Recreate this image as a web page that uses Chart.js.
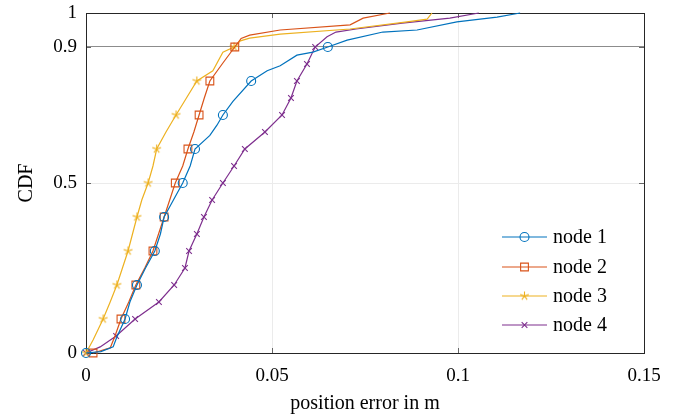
<!DOCTYPE html>
<html>
<head>
<meta charset="utf-8">
<script src="https://cdn.jsdelivr.net/npm/chart.js@4.4.1/dist/chart.umd.min.js"></script>
<style>
  html, body { margin: 0; padding: 0; background: #fff; }
  #wrap { width: 692px; height: 416px; }
</style>
</head>
<body>
<div id="wrap"><canvas id="cdf"></canvas></div>
<script>
// values: position error (m) against CDF level
const node1X   = [0, 0.004, 0.0073, 0.0083, 0.0105, 0.0118, 0.0137, 0.016, 0.0185, 0.020, 0.021, 0.0235, 0.026, 0.028, 0.0293, 0.0333, 0.0352, 0.0368, 0.0395, 0.0444, 0.0487, 0.0522, 0.0567, 0.061, 0.065, 0.0702, 0.0798, 0.089, 0.0997, 0.1105, 0.1167];
const node1Cdf = [0, 0.004, 0.018, 0.047, 0.1, 0.15, 0.2, 0.25, 0.3, 0.35, 0.4, 0.45, 0.5, 0.55, 0.6, 0.64, 0.67, 0.7, 0.74, 0.8, 0.83, 0.845, 0.876, 0.885, 0.9, 0.92, 0.944, 0.95, 0.974, 0.988, 1];

const node2X   = [0.0019, 0.0065, 0.0078, 0.0094, 0.0115, 0.0134, 0.0158, 0.018, 0.0195, 0.021, 0.0225, 0.024, 0.026, 0.0274, 0.029, 0.0304, 0.0318, 0.0333, 0.0368, 0.040, 0.0417, 0.044, 0.0522, 0.071, 0.0745, 0.0817];
const node2Cdf = [0, 0.015, 0.05, 0.1, 0.15, 0.2, 0.25, 0.3, 0.35, 0.4, 0.45, 0.5, 0.55, 0.6, 0.65, 0.7, 0.75, 0.8, 0.853, 0.9, 0.925, 0.935, 0.95, 0.965, 0.985, 1];

const node3X   = [0, 0.0019, 0.0046, 0.0065, 0.0083, 0.0098, 0.0113, 0.0125, 0.0137, 0.015, 0.0167, 0.018, 0.019, 0.0215, 0.0242, 0.027, 0.0298, 0.0341, 0.0368, 0.0398, 0.0415, 0.044, 0.0522, 0.071, 0.0863, 0.0917, 0.093];
const node3Cdf = [0, 0.038, 0.1, 0.15, 0.2, 0.25, 0.3, 0.35, 0.4, 0.45, 0.5, 0.55, 0.6, 0.65, 0.7, 0.75, 0.8, 0.83, 0.885, 0.9, 0.918, 0.926, 0.938, 0.953, 0.974, 0.982, 1];

const node4X   = [0, 0.0038, 0.0081, 0.0132, 0.0196, 0.0237, 0.0266, 0.0277, 0.0298, 0.0317, 0.0339, 0.0368, 0.0398, 0.0427, 0.0481, 0.0527, 0.0551, 0.0567, 0.0594, 0.0616, 0.0648, 0.0672, 0.0726, 0.085, 0.0978, 0.1056];
const node4Cdf = [0, 0.018, 0.05, 0.1, 0.15, 0.2, 0.25, 0.3, 0.35, 0.4, 0.45, 0.5, 0.55, 0.6, 0.65, 0.7, 0.75, 0.8, 0.85, 0.9, 0.93, 0.944, 0.953, 0.97, 0.985, 1];

const seriesNames = ['node 1', 'node 2', 'node 3', 'node 4'];
const xTicks = [0, 0.05, 0.1, 0.15];
const yTicks = [0, 0.5, 0.9, 1];

const FONT = '"Liberation Serif", "DejaVu Serif", serif';

function pts(xs, ys) {
  return xs.map((x, i) => ({ x: x, y: ys[i] }));
}

// a marker on every n-th sample, i.e. where the CDF level is a multiple of step
function markAt(step, r) {
  return ctx => {
    const y = ctx.raw.y;
    const k = y / step;
    return (y < 1 && Math.abs(k - Math.round(k)) < 1e-6) ? r : 0;
  };
}

// five-armed star mark as a small canvas
function starMark(color, r) {
  const c = document.createElement('canvas');
  const s = Math.ceil(r * 2 + 4);
  c.width = s; c.height = s;
  const g = c.getContext('2d');
  g.strokeStyle = color;
  g.lineWidth = 1.1;
  g.beginPath();
  for (let k = 0; k < 5; k++) {
    const a = -Math.PI / 2 + k * 2 * Math.PI / 5;
    g.moveTo(s / 2, s / 2);
    g.lineTo(s / 2 + r * Math.cos(a), s / 2 + r * Math.sin(a));
  }
  g.stroke();
  return c;
}

const series = [
  { xs: node1X, ys: node1Cdf, color: '#0072BD', style: 'circle',   r: 4.5, step: 0.1 },
  { xs: node2X, ys: node2Cdf, color: '#D95319', style: 'rect',     r: 5.5, step: 0.1 },
  { xs: node3X, ys: node3Cdf, color: '#EDB120', style: starMark('#EDB120', 4.5), r: 4.5, step: 0.1 },
  { xs: node4X, ys: node4Cdf, color: '#7E2F8E', style: 'crossRot', r: 4, step: 0.05 }
];

const datasets = series.map((s, i) => ({
  label: seriesNames[i],
  data: pts(s.xs, s.ys),
  showLine: true,
  borderColor: s.color,
  borderWidth: 1.2,
  pointStyle: s.style,
  pointBorderColor: s.color,
  pointBackgroundColor: 'rgba(0,0,0,0)',
  pointBorderWidth: 1.1,
  pointRadius: markAt(s.step, s.r),
  pointHoverRadius: 0,
  tension: 0,
  clip: false
}));

// frame with inward ticks
const framePlugin = {
  id: 'frame',
  beforeDatasetsDraw(chart) {
    const { ctx, chartArea: a, scales } = chart;
    ctx.save();
    ctx.strokeStyle = '#666';
    ctx.lineWidth = 1;
    ctx.beginPath();
    xTicks.forEach(v => {
      const px = Math.round(scales.x.getPixelForValue(v)) + 0.5;
      ctx.moveTo(px, a.bottom); ctx.lineTo(px, a.bottom - 5);
      ctx.moveTo(px, a.top); ctx.lineTo(px, a.top + 5);
    });
    yTicks.forEach(v => {
      const py = Math.round(scales.y.getPixelForValue(v)) + 0.5;
      ctx.moveTo(a.left, py); ctx.lineTo(a.left + 5, py);
      ctx.moveTo(a.right, py); ctx.lineTo(a.right - 5, py);
    });
    ctx.stroke();
    ctx.strokeStyle = '#262626';
    ctx.strokeRect(Math.round(a.left) + 0.5, Math.round(a.top) + 0.5,
                   Math.round(a.right - a.left), Math.round(a.bottom - a.top));
    ctx.restore();
  }
};

const legendPlugin = {
  id: 'innerLegend',
  afterDatasetsDraw(chart) {
    const ctx = chart.ctx;
    const x0 = 502, x1 = 547, tx = 553;
    const rows = [237, 267, 296, 325];
    ctx.save();
    ctx.font = '20px ' + FONT;
    ctx.textBaseline = 'middle';
    ctx.textAlign = 'left';
    series.forEach((s, i) => {
      const y = rows[i];
      ctx.strokeStyle = s.color;
      ctx.lineWidth = 1.2;
      ctx.beginPath();
      ctx.moveTo(x0, y); ctx.lineTo(x1, y);
      ctx.stroke();
      ctx.fillStyle = 'rgba(0,0,0,0)';
      ctx.lineWidth = 1.1;
      Chart.helpers.drawPoint(ctx, { pointStyle: s.style, radius: s.r, rotation: 0, borderWidth: 1.1 }, (x0 + x1) / 2, y);
      ctx.fillStyle = '#000';
      ctx.fillText(seriesNames[i], tx, y + 1);
    });
    ctx.restore();
  }
};

new Chart(document.getElementById('cdf'), {
  type: 'scatter',
  data: { datasets: datasets },
  options: {
    responsive: true,
    maintainAspectRatio: false,
    animation: false,
    layout: { padding: { left: 0, right: 48, top: 13, bottom: 0 } },
    plugins: {
      legend: { display: false },
      tooltip: { enabled: false }
    },
    scales: {
      x: {
        type: 'linear',
        min: 0,
        max: 0.15,
        afterBuildTicks: sc => { sc.ticks = xTicks.map(v => ({ value: v })); },
        afterFit: sc => { sc.height = 63; sc.paddingLeft = 0; sc.paddingRight = 0; },
        grid: { color: '#ebebeb', drawTicks: false },
        border: { display: false },
        ticks: {
          padding: 12,
          color: '#000',
          font: { family: FONT, size: 19 },
          callback: v => String(v)
        },
        title: {
          display: true,
          text: 'position error in m',
          color: '#000',
          font: { family: FONT, size: 20 },
          padding: { top: 0, bottom: 0 }
        }
      },
      y: {
        type: 'linear',
        min: 0,
        max: 1,
        afterBuildTicks: sc => { sc.ticks = yTicks.map(v => ({ value: v })); },
        afterFit: sc => { sc.width = 86; sc.paddingTop = 0; sc.paddingBottom = 0; },
        grid: {
          color: ctx => (ctx.tick && ctx.tick.value === 0.9) ? '#8c8c8c' : '#ebebeb',
          drawTicks: false
        },
        border: { display: false },
        ticks: {
          padding: 9,
          color: '#000',
          font: { family: FONT, size: 19 },
          callback: v => String(v)
        },
        title: {
          display: true,
          text: 'CDF',
          color: '#000',
          font: { family: FONT, size: 20 },
          padding: { top: 15, bottom: 0 }
        }
      }
    }
  },
  plugins: [framePlugin, legendPlugin]
});
</script>
</body>
</html>
